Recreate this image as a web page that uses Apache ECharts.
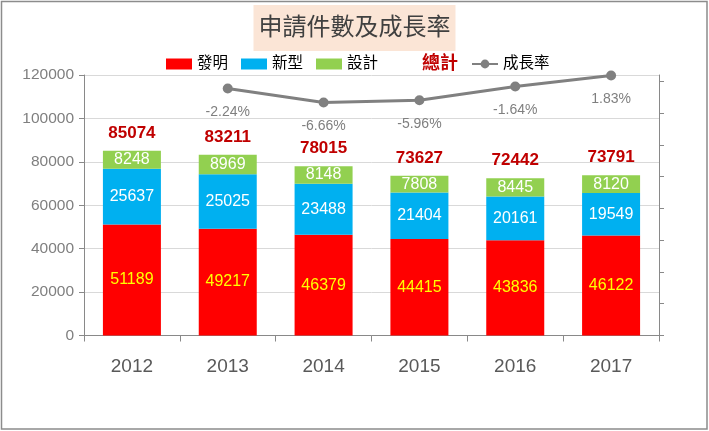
<!DOCTYPE html>
<html>
<head>
<meta charset="utf-8">
<script src="https://cdn.jsdelivr.net/npm/echarts@6/dist/echarts.min.js"></script>
<style>
  html, body { margin: 0; padding: 0; background: #fff; }
  #chart { width: 709px; height: 431px; }
</style>
</head>
<body>
<div id="chart"></div>
<script>
// data
const years = ['2012', '2013', '2014', '2015', '2016', '2017'];
const invention = [51189, 49217, 46379, 44415, 43836, 46122];
const utility = [25637, 25025, 23488, 21404, 20161, 19549];
const design = [8248, 8969, 8148, 7808, 8445, 8120];
const totals = [85074, 83211, 78015, 73627, 72442, 73791];
const growth = [null, -2.24, -6.66, -5.96, -1.64, 1.83];
const rightTicks = [-80, -70, -60, -50, -40, -30, -20, -10, 0];

const font = "'Liberation Sans', 'Noto Sans CJK TC', sans-serif";
const axisGray = '#898989';

const chart = echarts.init(document.getElementById('chart'));

const barLabel = color => ({
    show: true,
    position: 'inside',
    color: color,
    fontSize: 16,
    fontFamily: font,
});

const option = {
    backgroundColor: '#fff',
    animation: false,
    textStyle: { fontFamily: font },
    title: {
        text: '申請件數及成長率',
        left: 'center',
        top: 5,
        padding: [10, 5, 10, 5],
        backgroundColor: '#fbe5d6',
        textStyle: {
            fontSize: 24,
            fontWeight: 'normal',
            color: '#404040',
            fontFamily: font,
            lineHeight: 26,
        },
    },
    legend: {
        left: 166,
        top: 55,
        padding: 0,
        itemWidth: 26,
        itemHeight: 11,
        itemGap: 13,
        textStyle: { fontSize: 15.5, color: '#000', fontFamily: font },
        data: [
            { name: '發明', icon: 'rect' },
            { name: '新型', icon: 'rect' },
            { name: '設計', icon: 'rect' },
            { name: '總計', icon: 'none', textStyle: { color: '#c00000', fontWeight: 'bold', fontSize: 18 } },
            { name: '成長率' },
        ],
    },
    grid: {
        left: 84,
        right: 50,
        top: 75,
        bottom: 95.5,
    },
    graphic: [{
        type: 'rect',
        shape: { x: 1.5, y: 1.5, width: 705.5, height: 427.5 },
        style: { fill: 'none', stroke: '#8c8c8c', lineWidth: 1.5 },
        silent: true,
    }],
    xAxis: {
        type: 'category',
        data: years,
        axisLine: { lineStyle: { color: axisGray } },
        axisTick: { show: true, length: 6, lineStyle: { color: axisGray } },
        axisLabel: { fontSize: 19, color: '#595959', margin: 22 },
    },
    yAxis: [
        {
            type: 'value',
            min: 0,
            max: 120000,
            interval: 20000,
            axisLine: { show: true, lineStyle: { color: axisGray } },
            axisTick: { show: true, length: 5, lineStyle: { color: axisGray } },
            axisLabel: { fontSize: 15.5, color: '#7f7f7f', margin: 10, formatter: v => String(v) },
            splitLine: { lineStyle: { color: '#d9d9d9' } },
        },
        {
            type: 'value',
            min: -80,
            max: 2,
            position: 'right',
            axisLine: { show: true, lineStyle: { color: axisGray } },
            axisTick: { show: true, length: 5, customValues: rightTicks, lineStyle: { color: axisGray } },
            axisLabel: { show: false },
            splitLine: { show: false },
        },
    ],
    series: [
        {
            name: '發明',
            type: 'bar',
            stack: 'total',
            barWidth: 58,
            itemStyle: { color: '#ff0000' },
            label: barLabel('#ffff00'),
            data: invention,
        },
        {
            name: '新型',
            type: 'bar',
            stack: 'total',
            itemStyle: { color: '#00b0f0' },
            label: barLabel('#ffffff'),
            data: utility,
        },
        {
            name: '設計',
            type: 'bar',
            stack: 'total',
            itemStyle: { color: '#92d050' },
            label: barLabel('#ffffff'),
            data: design,
        },
        {
            // zero-height bar on top of the stack, only carries the total label
            name: '總計',
            type: 'bar',
            stack: 'total',
            itemStyle: { color: '#c00000' },
            label: {
                show: true,
                position: 'top',
                distance: 9,
                color: '#c00000',
                fontWeight: 'bold',
                fontSize: 17,
                formatter: p => totals[p.dataIndex],
            },
            data: totals.map(() => 0),
        },
        {
            name: '成長率',
            type: 'line',
            yAxisIndex: 1,
            symbol: 'circle',
            symbolSize: 10,
            lineStyle: { color: '#808080', width: 3 },
            itemStyle: { color: '#808080' },
            label: {
                show: true,
                position: 'bottom',
                distance: 12,
                color: '#7f7f7f',
                fontSize: 14,
                formatter: p => p.value.toFixed(2) + '%',
            },
            data: growth,
        },
    ],
};

chart.setOption(option);
</script>
</body>
</html>
